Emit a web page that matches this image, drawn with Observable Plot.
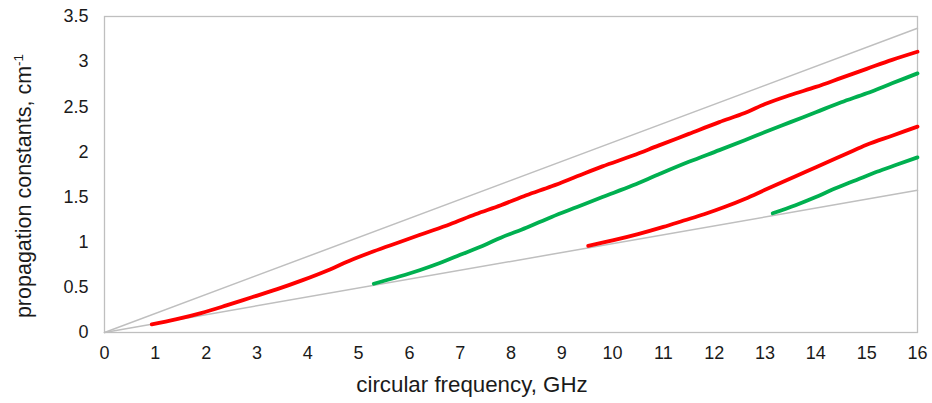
<!DOCTYPE html>
<html>
<head>
<meta charset="utf-8">
<script src="https://cdn.jsdelivr.net/npm/d3@7"></script>
<script src="https://cdn.jsdelivr.net/npm/@observablehq/plot@0.6"></script>
<style>
  html, body { margin: 0; padding: 0; background: #fff; }
  svg { display: block; font-family: "Liberation Sans", Arial, sans-serif; }
</style>
</head>
<body>
<div id="chart"></div>
<script>
// Light lines (bounds) from origin
const boundUpperX = [0, 16];
const boundUpperY = [0, 3.37];
const boundLowerX = [0, 16];
const boundLowerY = [0, 1.575];

// Mode 1 (red)
const red1X = [0.93, 1.4, 1.9, 2.4, 2.9, 3.4, 3.9, 4.4, 4.8, 5.3, 5.8, 6.3, 6.8, 7.3, 7.8, 8.3, 8.8, 9.3, 9.8, 10.4, 10.9, 11.5, 12.1, 12.6, 13.0, 13.5, 14.0, 14.5, 15.0, 15.5, 16.0];
const red1Y = [0.09, 0.145, 0.215, 0.30, 0.39, 0.48, 0.58, 0.69, 0.79, 0.90, 1.00, 1.10, 1.20, 1.31, 1.41, 1.52, 1.62, 1.73, 1.84, 1.96, 2.07, 2.20, 2.33, 2.43, 2.53, 2.63, 2.72, 2.82, 2.92, 3.02, 3.11];
// Mode 2 (green)
const green1X = [5.3, 5.8, 6.2, 6.6, 7.0, 7.4, 7.8, 8.3, 8.8, 9.3, 9.8, 10.4, 10.9, 11.5, 12.1, 12.6, 13.0, 13.5, 14.0, 14.5, 15.0, 15.5, 16.0];
const green1Y = [0.54, 0.62, 0.69, 0.77, 0.86, 0.95, 1.05, 1.16, 1.28, 1.39, 1.50, 1.63, 1.75, 1.89, 2.02, 2.13, 2.22, 2.33, 2.44, 2.55, 2.65, 2.76, 2.87];
// Mode 3 (red)
const red2X = [9.52, 10.0, 10.5, 11.0, 11.4, 11.8, 12.2, 12.6, 13.0, 13.4, 13.8, 14.2, 14.6, 15.0, 15.5, 16.0];
const red2Y = [0.96, 1.02, 1.09, 1.17, 1.24, 1.31, 1.39, 1.48, 1.58, 1.68, 1.78, 1.88, 1.98, 2.08, 2.18, 2.28];
// Mode 4 (green)
const green2X = [13.15, 13.6, 14.0, 14.4, 14.8, 15.2, 15.6, 16.0];
const green2Y = [1.32, 1.41, 1.50, 1.60, 1.69, 1.78, 1.86, 1.94];

const xTicks = d3.range(0, 17, 1);
const yTicks = [0, 0.5, 1, 1.5, 2, 2.5, 3, 3.5];

const toRows = (xs, ys) => xs.map((x, i) => ({x, y: ys[i]}));

const RED = "#ff0000", GREEN = "#00b050", GRAY = "#bfbfbf";

const chart = Plot.plot({
  width: 932,
  height: 403,
  marginLeft: 104,
  marginRight: 15,
  marginTop: 16,
  marginBottom: 71,
  style: {fontSize: "18px", fontFamily: "Liberation Sans, Arial, sans-serif", color: "#1a1a1a", background: "#fff"},
  x: {domain: [0, 16]},
  y: {domain: [0, 3.5]},
  marks: [
    Plot.frame({stroke: GRAY, strokeWidth: 1.3}),
    Plot.axisX({ticks: xTicks, tickSize: 0, tickPadding: 14, label: null, tickFormat: d => String(d), fontSize: 18}),
    Plot.axisY({ticks: yTicks, tickSize: 0, tickPadding: 16, label: null, tickFormat: d => String(d), fontSize: 18}),
    Plot.line(toRows(boundUpperX, boundUpperY), {x: "x", y: "y", stroke: GRAY, strokeWidth: 1.5}),
    Plot.line(toRows(boundLowerX, boundLowerY), {x: "x", y: "y", stroke: GRAY, strokeWidth: 1.5}),
    Plot.line(toRows(red1X, red1Y), {x: "x", y: "y", stroke: RED, strokeWidth: 3.8, curve: "monotone-x"}),
    Plot.line(toRows(green1X, green1Y), {x: "x", y: "y", stroke: GREEN, strokeWidth: 3.8, curve: "monotone-x"}),
    Plot.line(toRows(red2X, red2Y), {x: "x", y: "y", stroke: RED, strokeWidth: 3.8, curve: "monotone-x"}),
    Plot.line(toRows(green2X, green2Y), {x: "x", y: "y", stroke: GREEN, strokeWidth: 3.8, curve: "monotone-x"})
  ]
});

const svg = d3.select(chart);
svg.append("text")
  .attr("x", 472).attr("y", 392)
  .attr("text-anchor", "middle")
  .attr("font-size", 22.3)
  .attr("fill", "#1a1a1a")
  .text("circular frequency, GHz");
const yl = svg.append("text")
  .attr("transform", "translate(31,186) rotate(-90)")
  .attr("text-anchor", "middle")
  .attr("font-size", 21.5)
  .attr("fill", "#1a1a1a");
yl.append("tspan").text("propagation constants, cm");
yl.append("tspan").attr("font-size", 13.5).attr("dy", -8).text("-1");

document.getElementById("chart").appendChild(chart);
</script>
</body>
</html>
